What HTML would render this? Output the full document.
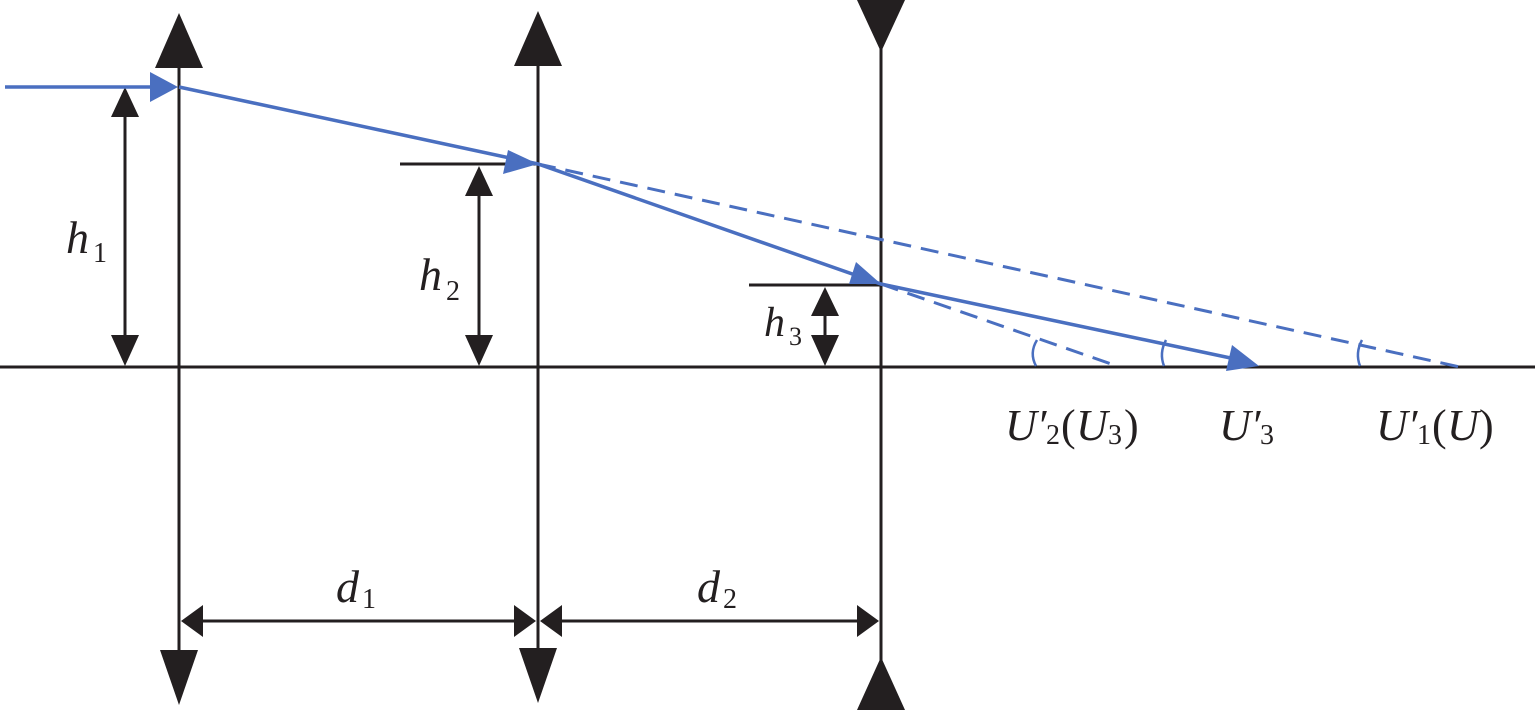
<!DOCTYPE html>
<html><head><meta charset="utf-8"><style>
html,body{margin:0;padding:0;background:#fff;}
svg{display:block;}
text{font-family:"Liberation Serif",serif;font-style:italic;fill:#231f20;}
.s{font-style:normal;}
</style></head><body>
<svg width="1535" height="710" viewBox="0 0 1535 710" xmlns="http://www.w3.org/2000/svg">
<g stroke="#231f20" stroke-width="3" fill="none">
<line x1="0" y1="367" x2="1535" y2="367"/>
<line x1="179" y1="60" x2="179" y2="655"/>
<line x1="538" y1="60" x2="538" y2="655"/>
<line x1="881" y1="45" x2="881" y2="665"/>
<line x1="400" y1="164" x2="538" y2="164"/>
<line x1="749" y1="285" x2="881" y2="285"/>
<line x1="125" y1="110" x2="125" y2="345"/>
<line x1="479" y1="190" x2="479" y2="345"/>
<line x1="825" y1="305" x2="825" y2="345"/>
<line x1="200" y1="621" x2="515" y2="621"/>
<line x1="560" y1="621" x2="860" y2="621"/>
</g>
<g fill="#231f20">
<polygon points="179,13 155,68 203,68"/>
<polygon points="538,11 514,66 562,66"/>
<polygon points="857,0 905,0 881,52"/>
<polygon points="160,650 198,650 179,705"/>
<polygon points="519,648 557,648 538,703"/>
<polygon points="881,657 857,710 905,710"/>
<polygon points="125,87 111,117 139,117"/>
<polygon points="125,366 111,335 139,335"/>
<polygon points="479,166 465,196 493,196"/>
<polygon points="479,366 465,335 493,335"/>
<polygon points="825,287 811,316 839,316"/>
<polygon points="825,366 811,335 839,335"/>
<polygon points="181,621 203,605 203,637"/>
<polygon points="536,621 514,605 514,637"/>
<polygon points="540,621 562,605 562,637"/>
<polygon points="879,621 857,605 857,637"/>
</g>
<g stroke="#4a6fc0" stroke-width="3.5" fill="none">
<line x1="5" y1="87" x2="160" y2="87"/>
<polyline points="179,87 538,164 881,284 1240,360"/>
<line x1="538" y1="164" x2="1460" y2="367" stroke-dasharray="18,10" stroke-width="3"/>
<line x1="881" y1="284" x2="1117" y2="366" stroke-dasharray="18,10" stroke-width="3"/>
<path d="M1037,340 Q1029,353 1036,366" stroke-width="2.5"/>
<path d="M1166,340 Q1159,353 1164,366" stroke-width="2.5"/>
<path d="M1362,340 Q1355,353 1360,366" stroke-width="2.5"/>
</g>
<g fill="#4a6fc0">
<polygon points="178,87 150,72 150,102"/>
<polygon points="538,164 508,150 503,174"/>
<polygon points="881,284 856,262 849,284"/>
<polygon points="1259,366 1232,345 1226,371"/>
</g>
<text x="66" y="253" font-size="46">h</text><text x="93" y="262" font-size="28" class="s">1</text>
<text x="419" y="290" font-size="46">h</text><text x="446" y="300" font-size="28" class="s">2</text>
<text x="764" y="336" font-size="42">h</text><text x="789" y="345" font-size="26" class="s">3</text>
<text x="336" y="602" font-size="46">d</text><text x="362" y="608" font-size="28" class="s">1</text>
<text x="697" y="602" font-size="46">d</text><text x="723" y="608" font-size="28" class="s">2</text>
<text x="1005" y="440" font-size="44">U′</text><text x="1046" y="444" font-size="28" class="s">2</text><text x="1061" y="440" font-size="44" class="s">(</text><text x="1076" y="440" font-size="44">U</text><text x="1108" y="444" font-size="28" class="s">3</text><text x="1124" y="440" font-size="44" class="s">)</text>
<text x="1219" y="440" font-size="44">U′</text><text x="1260" y="444" font-size="28" class="s">3</text>
<text x="1376" y="440" font-size="44">U′</text><text x="1417" y="444" font-size="28" class="s">1</text><text x="1432" y="440" font-size="44" class="s">(</text><text x="1447" y="440" font-size="44">U</text><text x="1479" y="440" font-size="44" class="s">)</text>
</svg>
</body></html>
